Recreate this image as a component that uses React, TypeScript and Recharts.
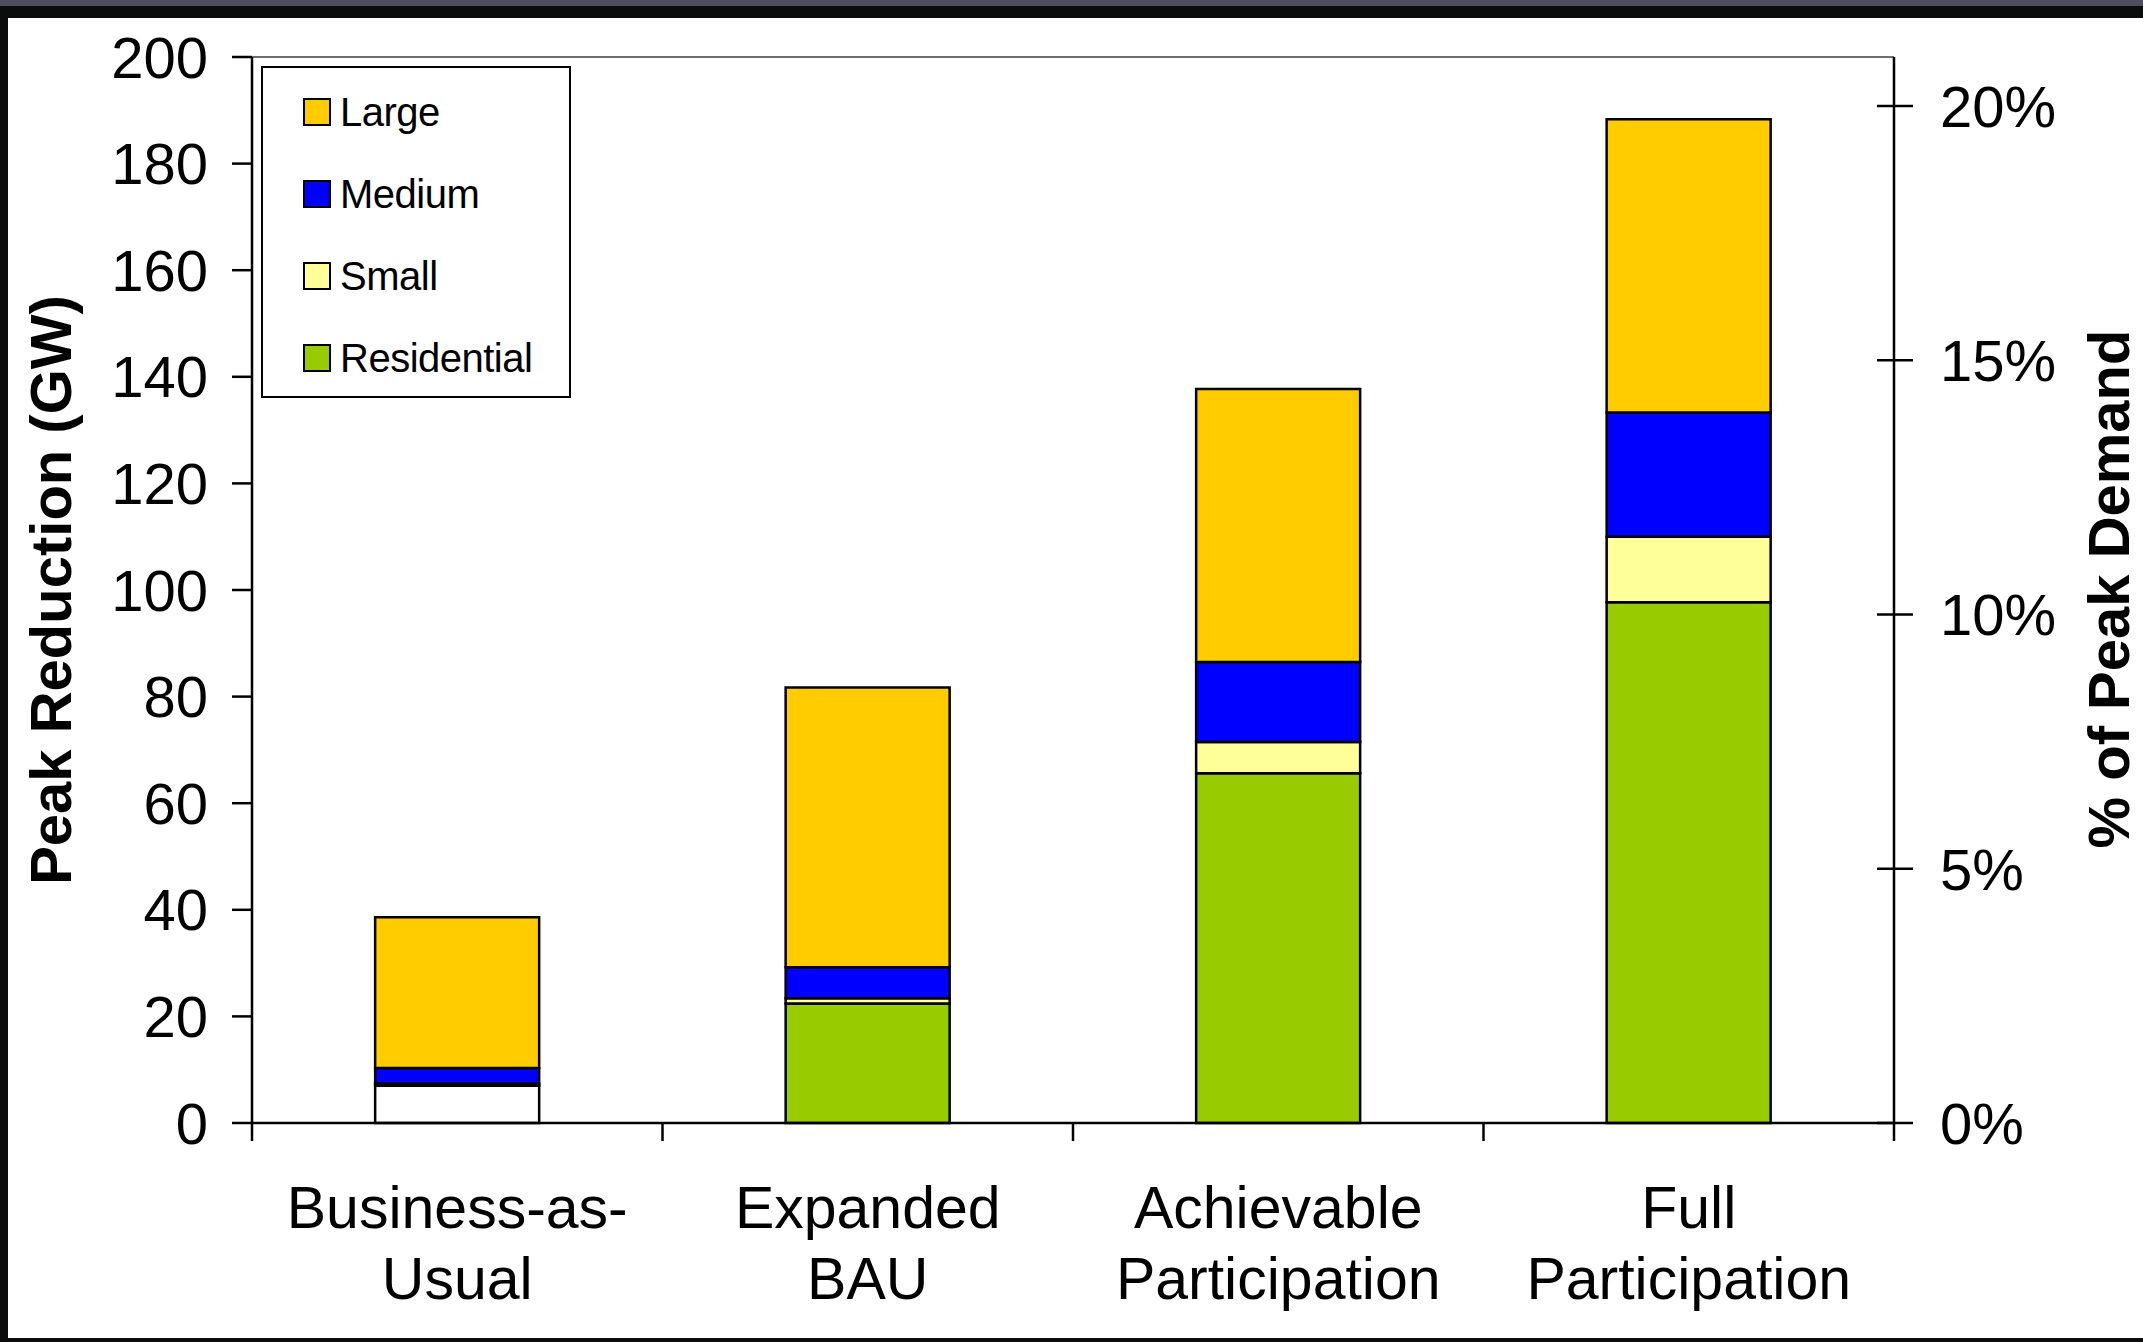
import React from "react";
import { BarChart, Bar, XAxis, YAxis, Cell, Legend, ReferenceLine } from "recharts";

// Peak reduction potential by customer class (GW)
const categories = ["Business-as-Usual", "Expanded BAU", "Achievable Participation", "Full Participation"];
const categoryLines = [
    ["Business-as-", "Usual"],
    ["Expanded", "BAU"],
    ["Achievable", "Participation"],
    ["Full", "Participation"],
];
const residential = [7.0, 22.4, 65.6, 97.7];
const small = [0.4, 1.0, 5.9, 12.3];
const medium = [2.9, 5.8, 15.0, 23.3];
const large = [28.3, 52.5, 51.2, 55.0];
const residentialFills = ["#FFFFFF", "#99CC00", "#99CC00", "#99CC00"];

const gwTicks = [0, 20, 40, 60, 80, 100, 120, 140, 160, 180, 200];
const pctTicks = [0, 5, 10, 15, 20];
const peakDemandGW = 954; // right axis: share of national peak demand
const pctMax = (200 / peakDemandGW) * 100;

const series = [
    { key: "residential", name: "Residential", color: "#99CC00" },
    { key: "small", name: "Small", color: "#FFFF99" },
    { key: "medium", name: "Medium", color: "#0000FF" },
    { key: "large", name: "Large", color: "#FFCC00" },
];

const data = categories.map((name, i) => ({
    name,
    residential: residential[i],
    small: small[i],
    medium: medium[i],
    large: large[i],
}));

const W = 2143;
const H = 1342;
const PLOT_LEFT = 252;
const PLOT_RIGHT = 1894;
const PLOT_TOP = 57;
const PLOT_BOTTOM = 1123;
const AXIS_W = 140;
const X_AXIS_H = 170;
const FONT = '"Liberation Sans", Arial, sans-serif';
const LINE = 2.5;

function CategoryTick(props: any) {
    const { x, index, payload } = props;
    const band = (PLOT_RIGHT - PLOT_LEFT) / categories.length;
    const lines = categoryLines[index] ?? [String(payload.value)];
    return (
        <g>
            <line x1={x - band / 2} x2={x - band / 2} y1={PLOT_BOTTOM} y2={PLOT_BOTTOM + 18} stroke="#000" strokeWidth={LINE} />
            {index === categories.length - 1 && (
                <line x1={x + band / 2} x2={x + band / 2} y1={PLOT_BOTTOM} y2={PLOT_BOTTOM + 18} stroke="#000" strokeWidth={LINE} />
            )}
            <text x={x} y={1228} textAnchor="middle" fontSize={59} fill="#000" fontFamily={FONT}>
                {lines.map((l: string, k: number) => (
                    <tspan key={k} x={x} dy={k === 0 ? 0 : 71}>{l}</tspan>
                ))}
            </text>
        </g>
    );
}

function PctTick(props: any) {
    const { y, payload } = props;
    return (
        <g>
            <line x1={PLOT_RIGHT - 17} x2={PLOT_RIGHT + 19} y1={y} y2={y} stroke="#000" strokeWidth={LINE} />
            <text x={1940} y={y} dy="0.36em" fontSize={58} fill="#000" fontFamily={FONT}>
                {payload.value}%
            </text>
        </g>
    );
}

function ClassLegend() {
    const items = [...series].reverse();
    return (
        <div
            style={{
                width: 310,
                height: 332,
                border: "2px solid #000",
                background: "#fff",
                boxSizing: "border-box",
                position: "relative",
                fontFamily: FONT,
            }}
        >
            {items.map((s, i) => (
                <div
                    key={s.key}
                    style={{
                        position: "absolute",
                        left: 40,
                        top: 44 + i * 82 - 22,
                        height: 44,
                        display: "flex",
                        alignItems: "center",
                    }}
                >
                    <span
                        style={{
                            width: 24,
                            height: 24,
                            background: s.color,
                            border: "2px solid #000",
                            display: "inline-block",
                            marginRight: 9,
                        }}
                    />
                    <span style={{ fontSize: 40, color: "#000", letterSpacing: -0.5 }}>{s.name}</span>
                </div>
            ))}
        </div>
    );
}

export default function App() {
    return (
        <div style={{ position: "absolute", left: 0, top: 0, width: W, height: H, background: "#0c0c0c", overflow: "hidden" }}>
            <div style={{ position: "absolute", left: 0, top: 0, width: W, height: 6, background: "#4b505c" }} />
            <div style={{ position: "absolute", left: 8, top: 18, right: 0, bottom: 4, background: "#fff" }} />
            <div style={{ position: "absolute", left: 0, top: 0 }}>
                <BarChart
                    width={W}
                    height={H}
                    data={data}
                    barCategoryGap="30%"
                    margin={{
                        top: PLOT_TOP,
                        left: PLOT_LEFT - AXIS_W,
                        right: W - PLOT_RIGHT - AXIS_W,
                        bottom: H - PLOT_BOTTOM - X_AXIS_H,
                    }}
                    style={{ fontFamily: FONT }}
                >
                    <ReferenceLine yAxisId="left" y={200} stroke="#6e6e6e" strokeWidth={2} />
                    <ReferenceLine yAxisId="right" y={pctMax} ifOverflow="extendDomain" stroke="none" />
                    <XAxis
                        dataKey="name"
                        height={X_AXIS_H}
                        tickLine={false}
                        axisLine={{ stroke: "#000", strokeWidth: LINE }}
                        tick={(p: any) => <CategoryTick {...p} />}
                        interval={0}
                    />
                    <YAxis
                        yAxisId="left"
                        width={AXIS_W}
                        domain={[0, 200]}
                        ticks={gwTicks}
                        interval={0}
                        tickSize={20}
                        tickMargin={24}
                        tickLine={{ stroke: "#000", strokeWidth: LINE }}
                        axisLine={{ stroke: "#000", strokeWidth: LINE }}
                        tick={{ fill: "#000", fontSize: 58, fontFamily: FONT }}
                        label={{
                            content: () => (
                                <text
                                    x={50}
                                    y={590}
                                    transform="rotate(-90 50 590)"
                                    textAnchor="middle"
                                    dominantBaseline="central"
                                    fontSize={58}
                                    fontWeight="bold"
                                    fill="#000"
                                    fontFamily={FONT}
                                >
                                    Peak Reduction (GW)
                                </text>
                            ),
                        }}
                    />
                    <YAxis
                        yAxisId="right"
                        orientation="right"
                        width={AXIS_W}
                        type="number"
                        domain={[0, pctMax]}
                        allowDataOverflow
                        ticks={pctTicks}
                        interval={0}
                        tickLine={false}
                        axisLine={{ stroke: "#000", strokeWidth: LINE }}
                        tick={(p: any) => <PctTick {...p} />}
                        label={{
                            content: () => (
                                <text
                                    x={2108}
                                    y={589}
                                    transform="rotate(-90 2108 589)"
                                    textAnchor="middle"
                                    dominantBaseline="central"
                                    fontSize={58}
                                    fontWeight="bold"
                                    fill="#000"
                                    fontFamily={FONT}
                                >
                                    % of Peak Demand
                                </text>
                            ),
                        }}
                    />
                    <Legend
                        layout="vertical"
                        align="center"
                        verticalAlign="middle"
                        content={() => <ClassLegend />}
                        wrapperStyle={{ left: 261, top: 66, width: 310, height: 332 }}
                    />
                    {series.map((s) => (
                        <Bar
                            key={s.key}
                            yAxisId="left"
                            dataKey={s.key}
                            name={s.name}
                            stackId="a"
                            fill={s.color}
                            stroke="#000"
                            strokeWidth={LINE}
                            isAnimationActive={false}
                        >
                            {s.key === "residential" &&
                                residentialFills.map((f, i) => <Cell key={i} fill={f} />)}
                        </Bar>
                    ))}
                </BarChart>
            </div>
        </div>
    );
}
